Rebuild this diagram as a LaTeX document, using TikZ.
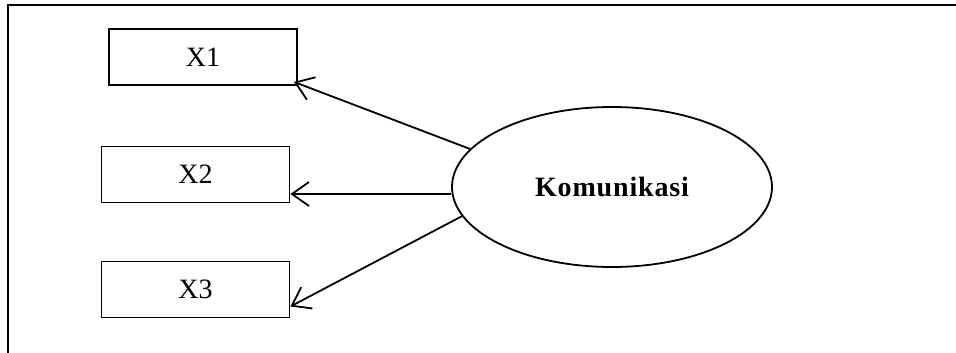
\documentclass[tikz,border=0pt]{standalone}
\usepackage{fontspec}
\setmainfont{Liberation Serif}
\newfontfamily\spacedbold[LetterSpace=3]{Liberation Serif}
\usetikzlibrary{arrows.meta,shapes.geometric}

\tikzset{
	indicator/.style={draw, line width=1.8pt, minimum width=188pt, minimum height=56pt, inner sep=0pt, font=\fontsize{28}{30}\selectfont},
	construct/.style={draw, ellipse, line width=1.8pt, minimum width=320pt, minimum height=160pt, inner sep=0pt, font=\fontsize{28}{30}\spacedbold\bfseries},
	link/.style={line width=1.8pt, -{Straight Barb[length=17pt, width=24pt, line width=1.8pt]}}
}

\begin{document}
\begin{tikzpicture}[x=1pt, y=-1pt]
	\useasboundingbox (0,0) rectangle (956,353);
	% frame
	\draw[line width=1.8pt] (8,5) rectangle (990,390);
	% indicators
	\node[indicator] (x1) at (203,57) {X1};
	\node[indicator] (x2) at (195.5,174.5) {X2};
	\node[indicator] (x3) at (195.5,289.5) {X3};
	% latent variable
	\node[construct] (kom) at (612,187) {Komunikasi};
	% loadings
	\draw[link] (kom.165) -- ([xshift=-4pt,yshift=4pt]x1.south east);
	\draw[link] ([yshift=-7pt]kom.west) -- ([yshift=-7pt]kom.west -| x2.east);
	\draw[link] (kom.191) -- ([yshift=-17pt]x3.east);
\end{tikzpicture}
\end{document}
